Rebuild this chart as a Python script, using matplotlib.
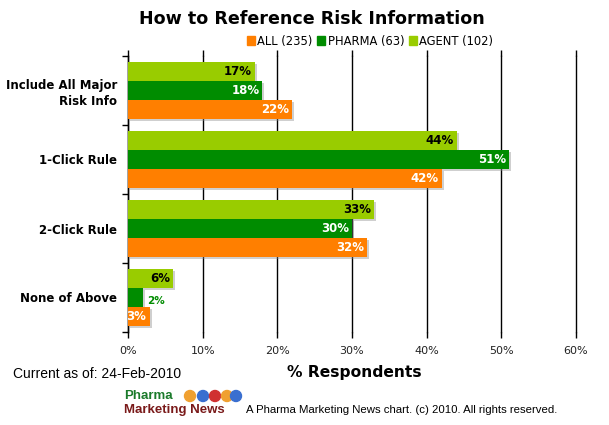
import numpy as np
import matplotlib.pyplot as plt
from matplotlib.patches import Ellipse

# chart data
categories = ['Include All Major\nRisk Info', '1-Click Rule', '2-Click Rule', 'None of Above']
series = ['ALL (235)', 'PHARMA (63)', 'AGENT (102)']
all_vals = [22, 42, 32, 3]
pharma_vals = [18, 51, 30, 2]
agent_vals = [17, 44, 33, 6]
xticks = [0, 10, 20, 30, 40, 50, 60]

colors = {'ALL (235)': '#ff7f00', 'PHARMA (63)': '#008c00', 'AGENT (102)': '#99cc00'}
label_colors = {'ALL (235)': 'white', 'PHARMA (63)': 'white', 'AGENT (102)': 'black'}

W, H = 609, 425
fig = plt.figure(figsize=(W / 100, H / 100), dpi=100)
ax = fig.add_axes([128 / W, 1 - 332 / H, 448 / W, 276 / H])

n = len(categories)
y = np.arange(n)
bh = 0.275
# bars top-to-bottom in each group: AGENT, PHARMA, ALL
offsets = {'AGENT (102)': -bh, 'PHARMA (63)': 0.0, 'ALL (235)': bh}
values = {'ALL (235)': all_vals, 'PHARMA (63)': pharma_vals, 'AGENT (102)': agent_vals}

px_x = 60 / 448.0
px_y = 4 / 276.0
for s in ['AGENT (102)', 'PHARMA (63)', 'ALL (235)']:
    v = np.array(values[s])
    ax.barh(y + offsets[s] + 2 * px_y, v, height=bh, left=2 * px_x,
            color='#888888', alpha=0.4, zorder=2, linewidth=0)
for s in ['AGENT (102)', 'PHARMA (63)', 'ALL (235)']:
    v = np.array(values[s])
    ax.barh(y + offsets[s], v, height=bh, color=colors[s], zorder=3, linewidth=0)
    for yi, vi in zip(y + offsets[s], v):
        txt = '%d%%' % vi
        if vi >= 5:
            ax.text(vi - 0.4, yi, txt, ha='right', va='center', fontsize=8.5,
                    fontweight='bold', color=label_colors[s], zorder=4)
        elif s == 'PHARMA (63)':
            ax.text(vi + 0.6, yi + 0.05, txt, ha='left', va='center', fontsize=7.5,
                    fontweight='bold', color=colors[s], zorder=4)
        else:
            ax.text(-0.2, yi, txt, ha='left', va='center', fontsize=8.5,
                    fontweight='bold', color='white', zorder=4, clip_on=True)

ax.set_xlim(0, 60)
ax.set_ylim(n - 0.5, -0.5)
ax.set_xticks(xticks)
ax.set_xticklabels(['%d%%' % t for t in xticks], fontsize=8, color='#222222')
ax.tick_params(axis='x', which='major', length=4, width=1, color='black',
               top=True, bottom=True, pad=6)
ax.xaxis.grid(True, color='black', linewidth=1, zorder=1)
for gl in ax.get_xgridlines():
    gl.set_clip_on(False)
ax.set_axisbelow(True)

ax.set_yticks(y)
ax.set_yticklabels(categories, fontsize=8.5, fontweight='bold', linespacing=1.3)
ax.tick_params(axis='y', which='major', length=0, pad=8)
ax.set_yticks(np.arange(n + 1) - 0.5, minor=True)
ax.tick_params(axis='y', which='minor', length=4, width=1, color='black')

for sp in ['top', 'right', 'bottom']:
    ax.spines[sp].set_visible(False)
ax.spines['left'].set_linewidth(1)

fig.text(354 / W, 1 - 373 / H, '% Respondents', ha='center', va='center',
         fontsize=11.2, fontweight='bold')

fig.text(312 / W, 1 - 19 / H, 'How to Reference Risk Information', ha='center', va='center',
         fontsize=12.6, fontweight='bold')

# legend
handles = [plt.Rectangle((0, 0), 1, 1, color=colors[s]) for s in series]
fig.legend(handles, series, loc='center', bbox_to_anchor=(370 / W, 1 - 41 / H), ncol=3,
           frameon=False, fontsize=8.3, handlelength=0.7, handleheight=0.7,
           handletextpad=0.25, columnspacing=0.35, borderpad=0)

fig.text(13 / W, 1 - 374 / H, 'Current as of: 24-Feb-2010', ha='left', va='center',
         fontsize=10, family='Liberation Sans')

# logo
fig.text(124 / W, 1 - 396 / H, 'Pharma', ha='left', va='center', fontsize=9.5,
         fontweight='bold', color='#1a7a2a', family='Liberation Sans')
fig.text(124 / W, 1 - 410 / H, 'Marketing News', ha='left', va='center', fontsize=9.5,
         fontweight='bold', color='#7a1a1a', family='Liberation Sans')
for cx, cc in zip([190, 203, 215, 227, 236], ['#f0a030', '#3a6fd0', '#d03030', '#f0a030', '#3a6fd0']):
    fig.add_artist(Ellipse((cx / W, 1 - 396 / H), 11 / W, 11 / H, color=cc,
                           transform=fig.transFigure))

fig.text(246 / W, 1 - 410 / H, 'A Pharma Marketing News chart. (c) 2010. All rights reserved.',
         ha='left', va='center', fontsize=8.2, family='Liberation Sans')

fig.savefig('out.png', dpi=100)
